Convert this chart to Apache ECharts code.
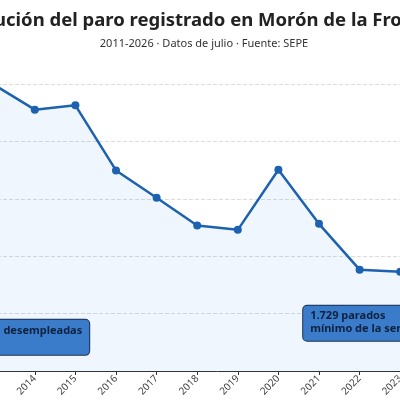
<!DOCTYPE html>
<html>
<head>
<meta charset="utf-8">
<script src="https://cdn.jsdelivr.net/npm/echarts@6/dist/echarts.min.js"></script>
<style>
  html, body { margin: 0; padding: 0; width: 400px; height: 400px; overflow: hidden; background: #fff; }
  #chart { position: absolute; left: -196px; top: 0; width: 800px; height: 400px; }
</style>
</head>
<body>
<div id="chart"></div>
<script>
  "use strict";
  var years = ['2011', '2012', '2013', '2014', '2015', '2016', '2017', '2018',
    '2019', '2020', '2021', '2022', '2023', '2024', '2025', '2026'];
  var parados = [4720, 4930, 4985, 4553, 4628, 3494, 3018, 2534,
    2459, 3506, 2564, 1765, 1729, 1810, 1860, 1795];
  var yTicks = [0, 1000, 2000, 3000, 4000, 5000];

  var fmt = function (v) {
    return String(v).replace(/\B(?=(\d{3})+(?!\d))/g, '.');
  };
  var boxLabel = {
    show: true,
    fontFamily: 'Noto Sans',
    fontSize: 11,
    fontWeight: 'bold',
    lineHeight: 13,
    color: '#0d2240',
    backgroundColor: '#3b7cca',
    borderColor: '#1a2f4f',
    borderWidth: 1,
    borderRadius: 4,
    padding: [4, 7, 5, 7],
    verticalAlign: 'top'
  };
  var boxRich = {
    l: { fontFamily: 'Noto Sans', fontSize: 11, fontWeight: 'bold', lineHeight: 13, color: '#0d2240', align: 'left' }
  };

  var chart = echarts.init(document.getElementById('chart'));
  chart.setOption({
    animation: false,
    title: {
      text: 'Evolución del paro registrado en Morón de la Frontera',
      subtext: '2011-2026 · Datos de julio · Fuente: SEPE',
      left: 'center',
      top: 6,
      itemGap: 8,
      textStyle: { fontFamily: 'Noto Sans', fontSize: 18.5, fontWeight: 'bold', color: '#222' },
      subtextStyle: { fontFamily: 'Noto Sans', fontSize: 11, color: '#333' }
    },
    grid: { left: 109, right: 82, top: 84, bottom: 29 },
    xAxis: {
      type: 'category',
      data: years,
      boundaryGap: false,
      axisLine: { lineStyle: { color: '#333' } },
      axisTick: { length: 4, lineStyle: { color: '#333' } },
      axisLabel: { rotate: 45, fontFamily: 'Noto Sans', fontSize: 10, color: '#444', margin: 6 }
    },
    yAxis: {
      type: 'value',
      min: yTicks[0],
      max: yTicks[yTicks.length - 1],
      interval: 1000,
      axisLabel: { formatter: fmt, fontFamily: 'Noto Sans', fontSize: 10, color: '#444' },
      splitLine: { lineStyle: { color: '#dcdcdc', type: 'dashed' } }
    },
    series: [{
      type: 'line',
      data: parados,
      symbol: 'circle',
      symbolSize: 8,
      itemStyle: { color: '#1c62b0' },
      lineStyle: { color: '#1c62b0', width: 2.5 },
      areaStyle: { color: 'rgba(40,130,235,0.1)' },
      markPoint: {
        symbol: 'circle',
        symbolSize: 0,
        data: [
          {
            type: 'max',
            label: Object.assign({}, boxLabel, {
              position: [95, 235],
              align: 'right',
              rich: boxRich,
              formatter: function (p) {
                return '{l|' + fmt(p.value) + ' personas desempleadas}\n{l|máximo (2013)}';
              }
            })
          },
          {
            type: 'min',
            label: Object.assign({}, boxLabel, {
              position: [-97, 34],
              align: 'left',
              formatter: function (p) { return fmt(p.value) + ' parados\nmínimo de la serie'; }
            })
          }
        ]
      }
    }]
  });
</script>
</body>
</html>
